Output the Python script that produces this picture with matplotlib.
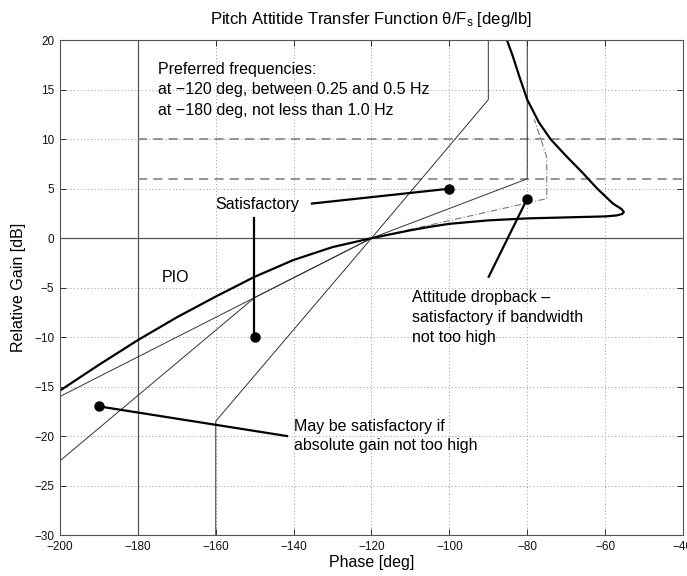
import matplotlib
matplotlib.use("Agg")
import matplotlib.pyplot as plt

plt.rcParams['font.family'] = ['Liberation Sans', 'DejaVu Sans']
plt.rcParams['mathtext.fontset'] = 'custom'
plt.rcParams['mathtext.rm'] = 'Liberation Sans'
plt.rcParams['mathtext.it'] = 'Liberation Sans:italic'

# ---- data (phase [deg], relative gain [dB]) ----
curve_phase = [-200, -190, -180, -170, -160, -150, -140, -130, -120,
               -115, -110, -105, -100, -90, -80, -70, -60, -57, -55.6, -55.2,
               -55.8, -57, -58, -62, -66, -70, -74, -77, -80, -82, -83.8, -85.2]
curve_gain = [-15.4, -12.8, -10.3, -8.0, -5.9, -3.9, -2.2, -0.9, 0.0,
              0.4, 0.8, 1.15, 1.45, 1.8, 2.0, 2.1, 2.2, 2.3, 2.45, 2.65,
              2.95, 3.25, 3.5, 5.0, 6.7, 8.3, 10.0, 11.7, 14.0, 16.3, 18.5, 20.0]

steep_phase = [-160, -160, -120, -90, -90]
steep_gain = [-30, -18.5, 0, 14, 20]

mid_phase = [-200, -120, -80, -80]
mid_gain = [-16.0, 0, 6, 20]

low_phase = [-200, -150, -120]
low_gain = [-22.5, -6.0, 0]

dashdot_phase = [-120, -75, -75, -78.2]
dashdot_gain = [0, 4, 8.2, 12.0]

dash_levels = [10, 6]
dash_start = -180

pt_phase = [-100, -80, -150, -190]
pt_gain = [5, 4, -10, -17]

xticks = [-200, -180, -160, -140, -120, -100, -80, -60, -40]
yticks = [20, 15, 10, 5, 0, -5, -10, -15, -20, -25, -30]

fig = plt.figure(figsize=(6.87, 5.76), dpi=100)
ax = fig.add_axes([60/687, 1-535/576, 623/687, (535-40.3)/576])
ax.set_xlim(-200, -40)
ax.set_ylim(-30, 20)
ax.set_xticks(xticks)
ax.set_yticks(yticks)
ax.set_xticklabels([('\u2212%d' % -t) if t < 0 else str(t) for t in xticks])
ax.set_yticklabels([('\u2212%d' % -t) if t < 0 else str(t) for t in yticks])
ax.tick_params(direction='in', top=True, right=True, length=4, width=0.6,
               labelsize=8.5, colors='#111111', pad=4)
for s in ax.spines.values():
    s.set_color('#555555')
    s.set_linewidth(0.8)
ax.grid(True, linestyle=(0, (1, 2.5)), color='#999999', linewidth=0.7)
ax.set_axisbelow(True)

# reference lines
ax.axvline(-180, color='#555555', lw=0.9)
ax.axhline(0, color='#555555', lw=0.9)
for lev in dash_levels:
    ax.plot([dash_start, -40], [lev, lev], color='#777777', lw=1.1, linestyle=(0, (6, 4)))

thin = dict(color='#333333', lw=0.7)
ax.plot(steep_phase, steep_gain, **thin)
ax.plot(mid_phase, mid_gain, **thin)
ax.plot(low_phase, low_gain, **thin)
ax.plot(dashdot_phase, dashdot_gain, color='#777777', lw=0.8, linestyle=(0, (6, 2, 1, 2)))

ax.plot(curve_phase, curve_gain, color='black', lw=1.6)

# annotation lines
ann = dict(color='black', lw=1.6)
ax.plot([-135.3, -100], [3.5, 5], **ann)
ax.plot([-150.3, -150.3], [2.0, -10], **ann)
ax.plot([-80, -89.9], [4, -3.9], **ann)
ax.plot([-190, -141.7], [-17, -20.0], **ann)
ax.plot(pt_phase, pt_gain, 'o', color='black', ms=6.5, zorder=5)

fs = 11.5
ax.text(-174.9, 17.0, 'Preferred frequencies:', fontsize=fs, va='center', ha='left')
ax.text(-174.9, 15.0, 'at \u2212120 deg, between 0.25 and 0.5 Hz', fontsize=fs, va='center', ha='left')
ax.text(-174.9, 12.9, 'at \u2212180 deg, not less than 1.0 Hz', fontsize=fs, va='center', ha='left')
ax.text(-160.2, 3.4, 'Satisfactory', fontsize=fs, va='center', ha='left')
ax.text(-173.9, -4.0, 'PIO', fontsize=fs, va='center', ha='left')
ax.text(-109.6, -6.0, 'Attitude dropback \u2013', fontsize=fs, va='center', ha='left')
ax.text(-109.6, -8.05, 'satisfactory if bandwidth', fontsize=fs, va='center', ha='left')
ax.text(-109.6, -10.0, 'not too high', fontsize=fs, va='center', ha='left')
ax.text(-140.0, -19.0, 'May be satisfactory if', fontsize=fs, va='center', ha='left')
ax.text(-140.0, -20.95, 'absolute gain not too high', fontsize=fs, va='center', ha='left')

ax.set_xlabel('Phase [deg]', fontsize=11.5, labelpad=2)
ax.set_ylabel('Relative Gain [dB]', fontsize=11.5, labelpad=6)
ax.set_title('Pitch Attitide Transfer Function \u03b8/F$_{\\rm s}$ [deg/lb]', fontsize=12, pad=12)

fig.savefig('out.png', dpi=100)
